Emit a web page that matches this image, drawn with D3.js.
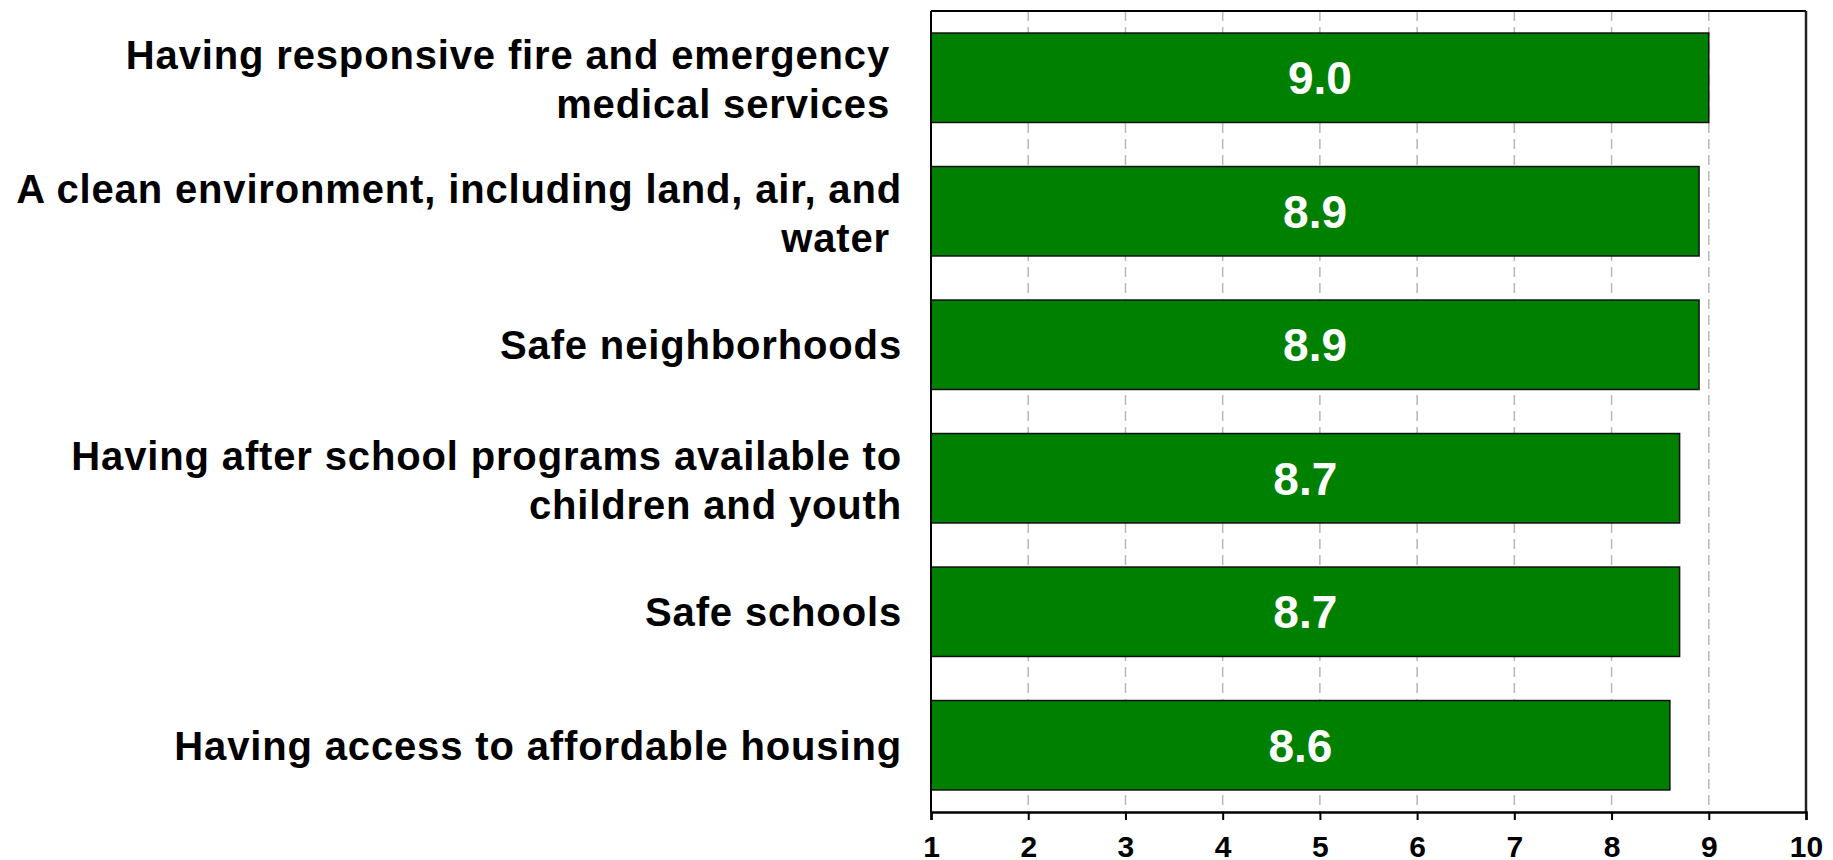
<!DOCTYPE html>
<html>
<head>
<meta charset="utf-8">
<script src="https://cdn.jsdelivr.net/npm/d3@7"></script>
<style>
    body { margin: 0; background: #fff; }
    text { font-family: "Liberation Sans", Arial, sans-serif; font-weight: bold; }
</style>
</head>
<body>
<div id="chart"></div>
<script>
// category labels, one array of lines per bar (trailing spaces kept as in the original)
const categories = [
    ["Having responsive fire and emergency ", "medical services "],
    ["A clean environment, including land, air, and", "water "],
    ["Safe neighborhoods"],
    ["Having after school programs available to", "children and youth"],
    ["Safe schools"],
    ["Having access to affordable housing"]
];
const scores = [9.0, 8.9, 8.9, 8.7, 8.7, 8.6];
const tickValues = [1, 2, 3, 4, 5, 6, 7, 8, 9, 10];
const gridValues = [2, 3, 4, 5, 6, 7, 8, 9];

var width = 1833;
var height = 860;
var plotL = 931, plotR = 1806, plotT = 11, plotB = 812;//plot area edges

const svg = d3.select("#chart")
    .append("svg")
    .attr("width", width)
    .attr("height", height)
    .style("background-color", "#ffffff");

const x = d3.scaleLinear()
    .domain([1, 10])
    .range([plotL, plotR]);

const y = d3.scaleBand()
    .domain(d3.range(scores.length))
    .range([plotT, plotB])
    .paddingInner(0.33)
    .paddingOuter(0.165);

// dashed grid lines behind the bars
svg.selectAll(".grid")
    .data(gridValues)
    .enter()
    .append("line")
    .attr("class", "grid")
    .attr("x1", d => x(d))
    .attr("x2", d => x(d))
    .attr("y1", plotT)
    .attr("y2", plotB)
    .attr("stroke", "#b8b8b8")
    .attr("stroke-width", 1.5)
    .attr("stroke-dasharray", "10,6");

// bars
svg.selectAll(".bar")
    .data(scores)
    .enter()
    .append("rect")
    .attr("class", "bar")
    .attr("x", x(1))
    .attr("y", (d, i) => y(i))
    .attr("width", d => x(d) - x(1))
    .attr("height", y.bandwidth())
    .attr("fill", "#008000")
    .attr("stroke", "#111")
    .attr("stroke-width", 1.5);

// value labels, centred in each bar
svg.selectAll(".val")
    .data(scores)
    .enter()
    .append("text")
    .attr("class", "val")
    .text(d => d.toFixed(1))
    .attr("x", d => (x(d) + x(1)) / 2)
    .attr("y", (d, i) => y(i) + y.bandwidth() / 2 + 16.5)
    .attr("text-anchor", "middle")
    .attr("fill", "#ffffff")
    .style("font-size", "46px");

// category labels, right aligned, wrapped lines
var lineH = 49;
const cat = svg.selectAll(".cat")
    .data(categories)
    .enter()
    .append("text")
    .attr("class", "cat")
    .attr("text-anchor", "end")
    .attr("fill", "#000")
    .style("font-size", "40px")
    .style("letter-spacing", "0.85px")
    .style("white-space", "pre");

cat.selectAll("tspan")
    .data((d, i) => d.map((s, k) => ({ s: s, k: k, n: d.length, i: i })))
    .enter()
    .append("tspan")
    .attr("x", 902)
    .attr("y", d => y(d.i) + y.bandwidth() / 2 + 14.5 + (d.n > 1 ? 1.5 : 0) + (d.k - (d.n - 1) / 2) * lineH)
    .text(d => d.s);

// frame: top, right, left
svg.append("line").attr("x1", plotL).attr("x2", plotR).attr("y1", plotT).attr("y2", plotT)
    .attr("stroke", "#000").attr("stroke-width", 2);
svg.append("line").attr("x1", plotR).attr("x2", plotR).attr("y1", plotT).attr("y2", plotB)
    .attr("stroke", "#222").attr("stroke-width", 2.5);
svg.append("line").attr("x1", plotL).attr("x2", plotL).attr("y1", plotT).attr("y2", plotB)
    .attr("stroke", "#000").attr("stroke-width", 2);

// x axis
const xAxis = d3.axisBottom(x)
    .tickValues(tickValues)
    .tickSize(8)
    .tickPadding(16)
    .tickFormat(d3.format("d"));

const gx = svg.append("g")
    .attr("transform", `translate(0,${plotB})`)
    .call(xAxis);
gx.select(".domain").attr("stroke", "#000").attr("stroke-width", 2.5);
gx.selectAll(".tick line").attr("stroke", "#000").attr("stroke-width", 2);
gx.selectAll(".tick text")
    .attr("fill", "#000")
    .style("font-size", "30px")
    .style("font-family", "'Liberation Sans', Arial, sans-serif")
    .style("font-weight", "bold");
</script>
</body>
</html>
